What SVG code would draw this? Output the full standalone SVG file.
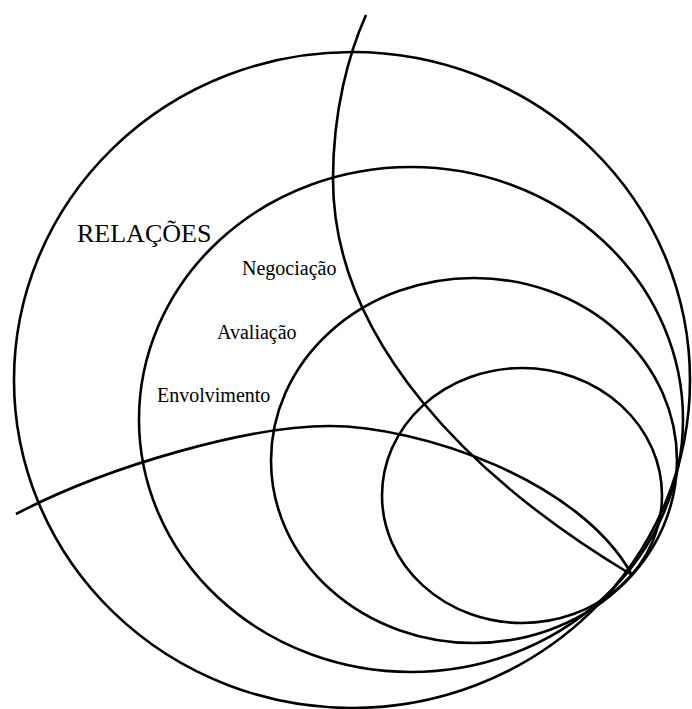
<svg xmlns="http://www.w3.org/2000/svg" width="692" height="709" viewBox="0 0 692 709">
<style>
.c{fill:none;stroke:#000;stroke-width:2.6}
.t{font-family:"Liberation Serif","Times New Roman",serif;fill:#000}
</style>
<rect width="692" height="709" fill="#fff"/>
<g id="relacoes">
<ellipse class="c" cx="352" cy="380" rx="338" ry="328"/>
<text class="t" x="77" y="242" font-size="26">RELAÇÕES</text>
</g>
<g id="negociacao">
<ellipse class="c" cx="411" cy="419.5" rx="272" ry="252.5"/>
<text class="t" x="242" y="275" font-size="20">Negociação</text>
</g>
<g id="avaliacao">
<ellipse class="c" cx="474" cy="460.5" rx="203" ry="182.5"/>
<text class="t" x="217" y="339" font-size="20">Avaliação</text>
</g>
<g id="envolvimento">
<ellipse class="c" cx="522" cy="495.5" rx="140" ry="127.5"/>
<text class="t" x="157" y="402" font-size="20">Envolvimento</text>
</g>
<g id="connectors">
<path class="c" d="M366,15 C349,53 333,110 333,179 C333,340 470,478 632,575"/>
<path class="c" d="M16,514 C110,465 250,426 329,426 C420,426 580,480 632,575"/>
</g>
</svg>
